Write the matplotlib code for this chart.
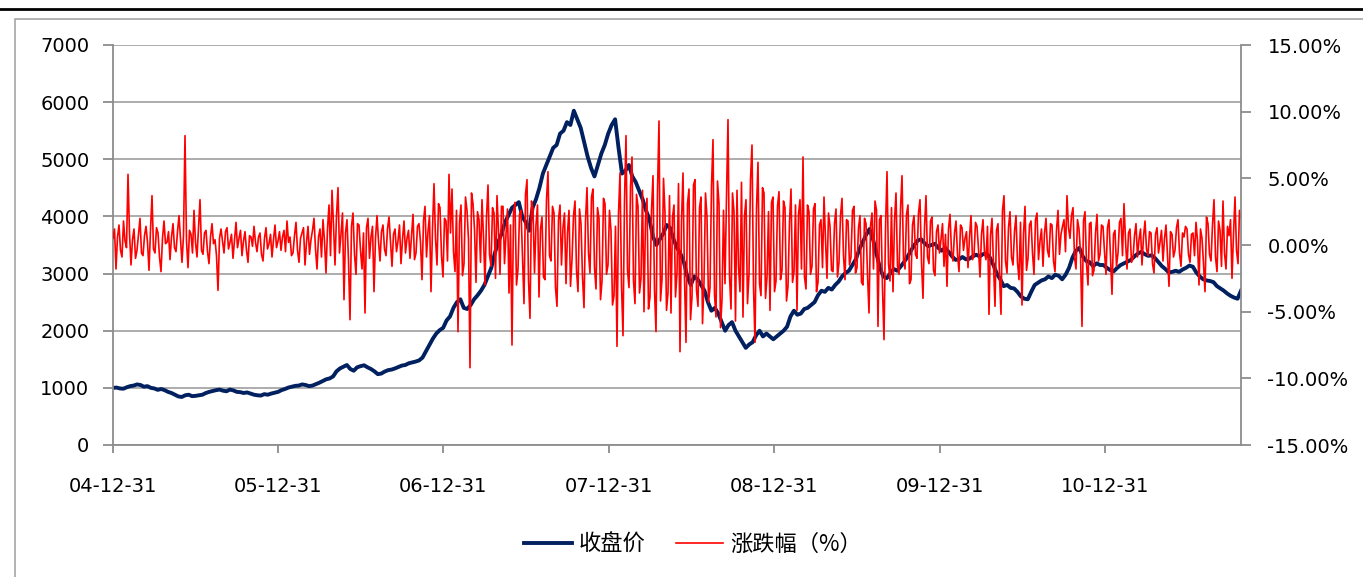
import numpy as np
import pandas as pd
import matplotlib
matplotlib.use('Agg')
import matplotlib.pyplot as plt
import matplotlib.dates as mdates
from matplotlib.patches import Rectangle
from matplotlib.lines import Line2D
from matplotlib.ticker import FuncFormatter

# 收盘价 (примерно по неделям)
close = [
    1000, 1005, 990, 985, 1010, 1030, 1040, 1060, 1050, 1020, 1030, 1000, 990, 965, 980, 960,
    930, 910, 880, 850, 840, 870, 880, 855, 860, 870, 880, 910, 930, 945, 960, 970,
    950, 940, 970, 955, 930, 925, 910, 920, 900, 880, 870, 865, 890, 880, 900, 915,
    930, 960, 980, 1005, 1020, 1035, 1040, 1060, 1050, 1030, 1040, 1065, 1090, 1120, 1150, 1165,
    1200, 1290, 1340, 1370, 1400, 1330, 1300, 1360, 1380, 1395, 1360, 1330, 1290, 1240, 1250, 1285,
    1310, 1320, 1340, 1365, 1390, 1400, 1430, 1445, 1460, 1480, 1530, 1640, 1750, 1860, 1950, 2010,
    2050, 2180, 2250, 2400, 2500, 2550, 2400, 2380, 2450, 2550, 2620, 2700, 2800, 2950, 3100, 3350,
    3550, 3700, 3900, 4020, 4150, 4200, 4250, 4000, 3900, 3750, 4150, 4300, 4500, 4750, 4900, 5050,
    5200, 5250, 5450, 5500, 5650, 5600, 5850, 5700, 5550, 5300, 5050, 4850, 4700, 4900, 5100, 5250,
    5450, 5600, 5700, 5200, 4750, 4800, 4900, 4700, 4600, 4450, 4300, 4100, 3950, 3650, 3500, 3600,
    3700, 3850, 3800, 3600, 3450, 3350, 3200, 2950, 2800, 2950, 2900, 2800, 2700, 2500, 2350, 2400,
    2300, 2150, 2000, 2100, 2150, 2000, 1900, 1800, 1700, 1760, 1800, 1920, 2000, 1900, 1950, 1900,
    1850, 1900, 1950, 2000, 2070, 2250, 2350, 2280, 2300, 2380, 2400, 2450, 2500, 2620, 2700, 2680,
    2750, 2720, 2800, 2860, 2950, 3010, 3050, 3150, 3250, 3420, 3550, 3680, 3780, 3600, 3350, 3100,
    2950, 2920, 3000, 3080, 3050, 3120, 3200, 3290, 3400, 3500, 3580, 3600, 3530, 3480, 3500, 3520,
    3450, 3400, 3450, 3380, 3300, 3240, 3250, 3290, 3250, 3260, 3300, 3330, 3300, 3340, 3350, 3280,
    3150, 3000, 2900, 2780, 2800, 2750, 2740, 2680, 2600, 2560, 2550, 2680, 2800, 2840, 2880, 2900,
    2950, 2920, 2980, 2960, 2900, 2980, 3100, 3280, 3400, 3450, 3300, 3220, 3200, 3130, 3180, 3150,
    3150, 3100, 3060, 3040, 3100, 3150, 3180, 3210, 3240, 3300, 3350, 3380, 3340, 3310, 3320, 3270,
    3200, 3130, 3080, 3020, 3030, 3050, 3030, 3070, 3100, 3140, 3120, 3020, 2950, 2900, 2880, 2870,
    2850, 2780, 2740, 2700, 2650, 2610, 2580, 2560, 2700,
]

# 涨跌幅, %
change = [
    0.5, 1.2, -1.8, 0.6, 1.5, -0.4, -0.9, 1.8, 0.3, -0.2, 5.3, 0.9, -1.5, 0.4, 1.2, -1.0, -0.4, 0.8, 2.0, -0.6,
    -0.8, 0.7, 1.4, 0.2, -1.9, 1.1, 3.7, -0.3, -0.6, 1.3, 0.9, -0.9, -2.0, 0.5, 1.8, 0.1, 0.2, 1.0, -1.1, 0.6,
    1.6, -0.2, -0.5, 1.0, 2.2, 0.4, -1.3, 0.7, 8.2, 0.3, -1.7, 1.1, 0.8, -0.6, 2.6, 0.2, -0.9, 1.3, 3.4, -0.4,
    -0.7, 0.9, 1.1, -0.5, -1.4, 0.6, 1.6, 0.1, 0.4, -0.8, -3.4, 0.5, 1.2, 0.3, -0.6, 1.0, 1.3, -0.3, 0.2, 0.8,
    -1.0, 0.4, 1.7, -0.2, 0.5, 1.1, -0.8, 0.3, 1.0, -0.4, -1.3, 0.7, 0.6, -0.1, 1.4, 0.2, -0.5, 0.6, 0.9, -0.7,
    -1.2, 0.5, 1.3, -0.3, 0.1, 0.8, -0.9, 0.4, 1.5, -0.2, 0.3, 1.0, -0.4, 0.6, 1.1, -0.5, 1.8, 0.2, 0.6, -0.8,
    -0.6, 0.7, 1.7, -0.4, -1.3, 0.5, 0.9, 1.3, -1.5, 0.2, 1.4, -0.7, 0.4, 1.1, 2.0, -0.3, -1.8, 0.6, 1.2, -0.9,
    1.9, 0.3, -2.1, 1.2, 3.0, -0.8, 4.1, 1.5, -1.5, 2.2, 4.3, -0.6, 0.8, 2.4, -4.1, 0.9, 1.9, -1.2, -5.6, 1.4,
    2.4, -0.7, -2.2, 1.6, 1.5, -0.4, -1.8, 0.9, -5.1, 1.3, 2.0, -1.0, 0.6, 1.4, -3.5, 0.5, 2.2, 0.3, -1.2, 1.0,
    1.5, -0.3, -0.8, 1.2, 2.1, 0.2, -1.6, 0.8, 1.2, -0.5, 0.3, 1.5, -1.4, 0.4, 1.8, -0.6, 0.5, 1.1, -1.0, 0.7,
    2.3, -1.1, -0.6, 1.4, 1.6, 0.2, -2.6, 1.8, 2.9, -0.9, 1.0, 2.2, -3.5, 1.2, 4.6, 0.5, -1.5, 3.1, 2.8, -0.8,
    -2.4, 2.0, 1.8, -1.2, 5.3, 0.9, 4.2, -0.5, -2.0, 2.6, -6.5, 1.7, 3.0, -2.3, -1.4, 3.6, 2.6, 0.4, -9.2, 3.9,
    3.1, 1.2, -2.8, 2.5, 1.9, -1.3, 3.4, 0.6, -3.0, 2.1, 4.5, -0.7, -1.6, 2.8, 2.4, -2.5, 3.7, 1.0, -2.2, 2.9,
    2.9, -1.4, 0.8, 2.7, -3.6, 1.5, -7.5, 2.4, 3.2, -3.0, -1.8, 2.3, 2.6, -0.9, -4.4, 3.8, 4.9, -2.6, -5.5, 3.3,
    2.7, -2.1, 1.5, 3.0, -3.9, 1.2, 2.1, -2.4, -2.6, 3.4, 5.5, -0.8, -1.2, 2.9, 2.4, -3.2, -4.6, 1.9, 3.0, -1.5,
    1.3, 2.4, -2.9, 0.9, 2.6, -3.1, -1.1, 2.2, 3.3, -1.9, -3.5, 2.7, 1.6, -2.4, -4.7, 1.8, 4.3, -0.6, -2.1, 3.6,
    4.2, -1.7, -3.3, 2.8, 2.0, -4.1, -2.7, 3.5, 3.1, -2.2, -1.5, 2.6, 1.1, -4.5, -3.8, 1.4, -7.6, 2.3, 5.4, -3.0,
    -6.8, 3.3, 8.2, -1.9, -3.2, 4.4, 6.6, -2.7, -4.4, 3.8, 2.9, -3.6, -2.5, 4.1, -5.0, 2.0, 3.5, -4.8, -3.9, 2.6,
    5.2, -3.4, -6.5, 4.0, 9.3, -4.2, -2.6, 5.0, 2.4, -4.9, -3.6, 3.7, -5.1, 2.1, 3.0, -3.9, -2.1, 4.6, -8.0, 1.8,
    5.4, -2.5, -7.3, 3.1, 4.2, -5.6, -3.9, 4.5, 4.9, -3.4, -4.6, 2.8, 3.6, -5.9, -2.8, 3.9, 2.1, -4.3, -3.2, 4.4,
    7.9, -3.7, -5.4, 4.8, 3.1, -6.2, -4.1, 2.6, -2.9, 3.6, 9.4, -2.3, -4.8, 3.9, 2.5, -5.7, 4.1, -1.6, -3.5, 4.7,
    -5.4, 2.2, 3.4, -4.4, -2.2, 4.9, 7.5, -3.1, -7.3, 2.7, 6.2, -2.9, -3.8, 4.3, 3.9, -4.0, -2.4, 2.5, -4.9, 3.2,
    3.6, -3.5, -2.7, 2.9, 4.0, -2.6, -1.9, 3.3, 2.8, -4.2, -3.1, 1.7, 4.2, -2.8, -2.0, 3.0, -4.9, 2.3, 3.4, -1.8,
    6.6, -2.4, -3.3, 3.0, 2.5, -2.2, -1.6, 2.7, 3.1, -3.5, -2.8, 1.5, 1.9, -1.7, 3.6, 0.4, -2.5, 2.4, 1.4, -1.9,
    -2.0, 1.6, 2.7, -2.4, -1.3, 2.2, 3.5, -0.8, -2.6, 1.9, 1.8, -1.5, -0.9, 2.6, 2.9, -2.1, -1.7, 1.3, 2.2, -2.8,
    -3.0, 2.0, 1.6, -2.2, -5.1, 1.4, 2.4, -1.8, 3.3, 2.6, -6.1, 1.9, 2.2, -3.3, -7.1, 1.2, 5.5, -1.4, -2.7, 2.8,
    -3.5, 1.8, 3.9, -1.6, -2.2, 2.7, 5.2, -1.1, -1.8, 2.3, 3.0, -2.9, -2.6, 1.5, 2.2, -0.7, -1.0, 2.4, 3.4, -1.3,
    -4.0, 1.3, 3.7, -0.9, -1.4, 1.8, 2.1, -1.9, -2.3, 1.0, 1.5, -0.6, 0.4, 1.6, -1.6, 0.8, -3.1, 1.2, 2.3, -0.5,
    -1.2, 0.9, 1.8, -0.7, -2.0, 1.5, 1.3, -0.4, 0.5, 1.0, -1.7, 0.6, 2.2, -1.1, -0.8, 1.7, 1.4, -0.3, -2.4, 0.8,
    1.9, -0.6, -1.1, 1.4, -5.2, 0.7, 2.0, -1.5, -4.6, 1.1, 1.6, -2.3, -5.2, 2.6, 3.7, -1.2, -2.1, 1.3, 2.5, -0.9,
    -1.5, 1.0, 2.2, -1.3, -2.6, 1.7, -4.5, 0.8, 2.9, -1.9, -1.0, 1.5, 1.8, -0.6, -2.2, 1.9, 2.4, -1.1, 0.3, 1.2,
    -1.6, 0.9, 2.0, -0.4, -0.9, 1.6, 1.5, -1.2, -2.0, 1.1, 2.6, -0.7, 0.8, 1.4, 1.9, -0.5, 3.7, 1.3, 0.5, 2.2,
    2.8, -0.9, -1.8, 1.9, 1.2, -0.6, -6.1, 1.8, 2.5, -1.4, -3.0, 1.6, 1.7, -2.3, -1.9, 0.9, 2.3, -1.2, -0.7, 1.5,
    1.4, -0.5, -2.2, 1.3, 1.9, -1.0, -3.7, 0.8, 1.1, -1.6, -0.6, 1.7, 2.0, -0.8, 3.1, 0.4, -1.8, 0.9, 1.2, -1.3,
    -1.0, 0.7, 1.6, -0.9, 0.4, 1.2, -1.5, 0.6, 1.8, -0.3, -0.8, 1.0, 0.9, -1.4, -2.1, 0.8, 1.3, -0.6, 0.2, 1.1,
    -1.2, 0.5, 1.5, -0.8, -3.1, 1.0, 0.8, -0.9, -0.4, 1.3, 1.9, -0.6, -1.6, 0.9, 0.6, 1.4, 1.2, -0.7, -1.3, 0.8,
    0.9, -0.8, 1.7, 0.3, -3.0, 1.2, 0.5, -1.4, -3.5, 2.1, 1.6, -0.7, -1.2, 1.5, 3.4, -0.9, -2.0, 1.8, 1.1, -1.6,
    3.3, -0.6, -1.8, 1.4, 0.7, 1.9, -2.5, 0.8, 3.6, -0.4, -1.4, 2.6, 2.0,
]

start_date = '2004-12-31'
end_date = '2011-10-28'
tick_dates = ['2004-12-31', '2005-12-31', '2006-12-31', '2007-12-31',
              '2008-12-31', '2009-12-31', '2010-12-31']
left_ticks = [0, 1000, 2000, 3000, 4000, 5000, 6000, 7000]
right_ticks = [-15, -10, -5, 0, 5, 10, 15]

d_close = pd.date_range(start_date, end_date, periods=len(close))
d_change = pd.date_range(start_date, end_date, periods=len(change))

W, H = 1363, 577
fig = plt.figure(figsize=(W / 100, H / 100), dpi=100)

# рамка и верхняя черная линия
fig.patches.append(Rectangle((15 / W, -0.1), 1.2, 1 - 19 / H + 0.1, transform=fig.transFigure,
                             fill=False, edgecolor='#a6a6a6', linewidth=1.2))
fig.lines.append(Line2D([0, 1], [1 - 9 / H, 1 - 9 / H], transform=fig.transFigure,
                        color='black', linewidth=2))

ax = fig.add_axes([113 / W, 1 - 445 / H, 1128 / W, 400 / H])
gray = '#8c8c8c'

l1, = ax.plot(d_close, close, color='#002060', linewidth=2.8, label='收盘价')
ax.set_ylim(0, 7000)
ax.set_yticks(left_ticks)
ax.set_xlim(pd.Timestamp(start_date), pd.Timestamp(end_date))
ax.set_xticks(pd.to_datetime(tick_dates))
ax.xaxis.set_major_formatter(mdates.DateFormatter('%y-%m-%d'))
ax.grid(axis='y', color='#a6a6a6', linewidth=1.3)
ax.set_axisbelow(True)
for s in ['top', 'right']:
    ax.spines[s].set_visible(False)
for s in ['left', 'bottom']:
    ax.spines[s].set_color(gray)
    ax.spines[s].set_linewidth(1.3)
ax.tick_params(axis='y', length=7, width=1.3, color=gray, pad=10, labelsize=14)
ax.tick_params(axis='x', length=6, width=1.3, color=gray, pad=17, labelsize=14)

ax2 = ax.twinx()
l2, = ax2.plot(d_change, change, color='#ff0000', linewidth=1.2, label='涨跌幅（%）')
ax2.set_ylim(-15, 15)
ax2.set_yticks(right_ticks)
ax2.yaxis.set_major_formatter(FuncFormatter(lambda v, p: '%.2f%%' % v))
for s in ['top', 'left', 'bottom']:
    ax2.spines[s].set_visible(False)
ax2.spines['right'].set_color(gray)
ax2.spines['right'].set_linewidth(1.3)
ax2.tick_params(axis='y', length=7, width=1.3, color=gray, pad=12, labelsize=14)

fig.legend(handles=[l1, l2], loc='center', bbox_to_anchor=(693 / W, 1 - 544 / H), ncol=2,
           frameon=False, handlelength=2.15, handletextpad=0.32, columnspacing=1.35,
           prop={'family': ['Noto Sans CJK SC', 'DejaVu Sans'], 'size': 16})

fig.savefig('out.png', dpi=100)
